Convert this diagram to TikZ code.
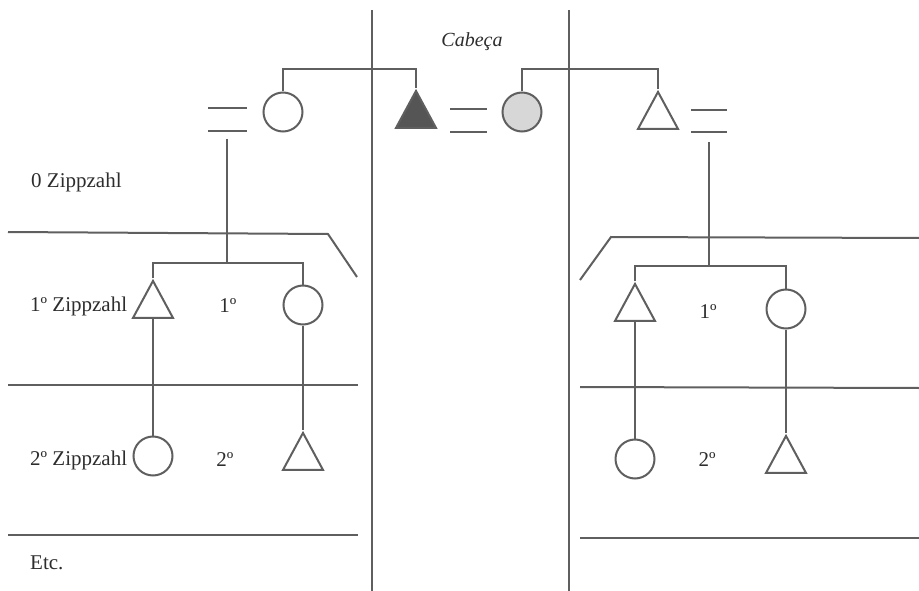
\documentclass[tikz,border=0pt]{standalone}
\usepackage{fontspec}
\setmainfont{Liberation Serif}
\usetikzlibrary{shapes.geometric}
\definecolor{ln}{RGB}{95,95,95}
\definecolor{tx}{RGB}{45,45,45}
\definecolor{dk}{RGB}{85,85,85}
\definecolor{lt}{RGB}{215,215,215}
\begin{document}
\begin{tikzpicture}[x=1pt,y=-1pt,
  rule/.style={line width=2pt,draw=ln},
  fem/.style={circle,draw=ln,line width=2pt,minimum size=39pt,inner sep=0pt},
  male/.style={isosceles triangle,isosceles triangle stretches,shape border rotate=90,
    draw=ln,line width=2pt,minimum width=40pt,minimum height=37pt,inner sep=0pt},
  lbl/.style={text=tx,inner sep=0pt,font=\fontsize{21}{25}\selectfont}]
\useasboundingbox (0,0) rectangle (919,591);
% column separators
\coordinate (v1t) at (372,10); \coordinate (v1b) at (372,591);
\coordinate (v2t) at (569,10); \coordinate (v2b) at (569,591);
\draw[rule] (v1t) -- (v1b);
\draw[rule] (v2t) -- (v2b);
% level separators left
\coordinate (l1a) at (8,232); \coordinate (l1b) at (328,234); \coordinate (l1c) at (357,277);
\draw[rule] (l1a) -- (l1b) -- (l1c);
\coordinate (l2a) at (8,385); \coordinate (l2b) at (358,385);
\draw[rule] (l2a) -- (l2b);
\coordinate (l3a) at (8,535); \coordinate (l3b) at (358,535);
\draw[rule] (l3a) -- (l3b);
% level separators right
\coordinate (r1a) at (580,280); \coordinate (r1b) at (611,237); \coordinate (r1c) at (919,238);
\draw[rule] (r1a) -- (r1b) -- (r1c);
\coordinate (r2a) at (580,387); \coordinate (r2b) at (919,388);
\draw[rule] (r2a) -- (r2b);
\coordinate (r3a) at (580,538); \coordinate (r3b) at (919,538);
\draw[rule] (r3a) -- (r3b);
% head generation
\node[lbl,font=\fontsize{20}{24}\selectfont\itshape] (cab) at (472,42) {Cabeça};
\node[fem] (c0) at (283,112) {};
\node[male,fill=dk] (t0) at (416,116) {};
\node[fem,fill=lt] (c1) at (522,112) {};
\node[male] (t1) at (658,117) {};
\coordinate (b0) at (349,69);
\draw[rule] (c0.north) -- (c0.north |- b0) -- (t0.apex |- b0) -- (t0.apex);
\draw[rule] (c1.north) -- (c1.north |- b0) -- (t1.apex |- b0) -- (t1.apex);
% marriage signs
\coordinate (eL1a) at (208,108); \coordinate (eL1b) at (247,108);
\coordinate (eL2a) at (208,131); \coordinate (eL2b) at (247,131);
\draw[rule] (eL1a) -- (eL1b); \draw[rule] (eL2a) -- (eL2b);
\coordinate (eM1a) at (450,109); \coordinate (eM1b) at (487,109);
\coordinate (eM2a) at (450,132); \coordinate (eM2b) at (487,132);
\draw[rule] (eM1a) -- (eM1b); \draw[rule] (eM2a) -- (eM2b);
\coordinate (eR1a) at (691,110); \coordinate (eR1b) at (727,110);
\coordinate (eR2a) at (691,132); \coordinate (eR2b) at (727,132);
\draw[rule] (eR1a) -- (eR1b); \draw[rule] (eR2a) -- (eR2b);
% left lineage
\coordinate (dL) at (227,139);
\coordinate (bL) at (227,263);
\node[male] (lt1) at (153,306) {};
\node[fem] (lc1) at (303,305) {};
\node[fem] (lc2) at (153,456) {};
\node[male] (lt2) at (303,458) {};
\draw[rule] (dL) -- (bL);
\draw[rule] (lt1.apex) -- (lt1.apex |- bL) -- (lc1.north |- bL) -- (lc1.north);
\draw[rule] (lt1.south) -- (lc2.north);
\draw[rule] (lc1.south) -- (lt2.apex);
% right lineage
\coordinate (dR) at (709,142);
\coordinate (bR) at (709,266);
\node[male] (rt1) at (635,309) {};
\node[fem] (rc1) at (786,309) {};
\node[fem] (rc2) at (635,459) {};
\node[male] (rt2) at (786,461) {};
\draw[rule] (dR) -- (bR);
\draw[rule] (rt1.apex) -- (rt1.apex |- bR) -- (rc1.north |- bR) -- (rc1.north);
\draw[rule] (rt1.south) -- (rc2.north);
\draw[rule] (rc1.south) -- (rt2.apex);
% labels
\node[lbl,anchor=west] (z0) at (31,182) {0 Zippzahl};
\node[lbl,anchor=west] (z1) at (30,306) {1º Zippzahl};
\node[lbl,anchor=west] (z2) at (30,460) {2º Zippzahl};
\node[lbl,anchor=west] (etc) at (30,563) {Etc.};
\node[lbl] (g1L) at (228,306) {1º};
\node[lbl] (g2L) at (225,460) {2º};
\node[lbl] (g1R) at (708,312) {1º};
\node[lbl] (g2R) at (707,460) {2º};
\end{tikzpicture}
\end{document}
